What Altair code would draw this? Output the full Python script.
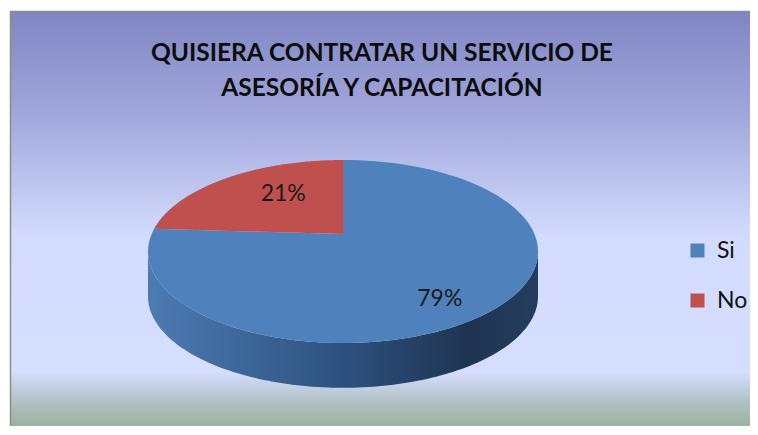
import altair as alt
import pandas as pd
import numpy as np

# ---- data ----
categories = ["Si", "No"]
values = [79, 21]
colors = ["#4F81BD", "#C0504D"]
title_lines = ["QUISIERA CONTRATAR UN SERVICIO DE", "ASESORÍA Y CAPACITACIÓN"]

# ---- layout / style constants ----
W, H = 740, 415
N = 120                 # arc resolution
VY = 0.19               # vertex offset (perspective)
DEPTH = 0.49            # pie thickness in y units
label_radius = {"Si": 0.81, "No": 0.5}
FONT = "Lato"

total = float(sum(values))
ends = np.cumsum(values) / total
starts = ends - np.array(values) / total

rows = []
for c, v, s, e in zip(categories, values, starts, ends):
    for k in range(-1, N + 1):
        rows.append({"cat": c, "value": v, "start": s, "end": e, "step": k})
pie_df = pd.DataFrame(rows)
lab_df = pd.DataFrame({"cat": categories, "value": values, "start": starts, "end": ends})

xs = alt.Scale(domain=[-1, 1], range=[138, 528], nice=False, zero=False)
ys = alt.Scale(domain=[-1, 1], range=[332, 149], nice=False, zero=False)

one = pd.DataFrame({"k": [0]})

bg_grad = alt.Gradient(
    gradient="linear", x1=0, x2=0, y1=0, y2=1,
    stops=[
        alt.GradientStop(offset=0.0, color="#7F85C3"),
        alt.GradientStop(offset=0.26, color="#A3A9DC"),
        alt.GradientStop(offset=0.45, color="#C3CBF3"),
        alt.GradientStop(offset=0.545, color="#D3DCFE"),
        alt.GradientStop(offset=0.87, color="#D5DEFF"),
        alt.GradientStop(offset=0.90, color="#C6D1E8"),
        alt.GradientStop(offset=0.94, color="#B2C2C4"),
        alt.GradientStop(offset=1.0, color="#9CB19E"),
    ],
)
bg = alt.Chart(one).mark_rect(color=bg_grad).encode(
    x=alt.value(0), x2=alt.value(W), y=alt.value(0), y2=alt.value(H)
)
border_top = alt.Chart(one).mark_rule(color="#8C8C8C", strokeWidth=1.5).encode(
    x=alt.value(0), x2=alt.value(W), y=alt.value(0.5)
)
border_left = alt.Chart(one).mark_rule(color="#8C8C8C", strokeWidth=1.5).encode(
    x=alt.value(0.5), y=alt.value(0), y2=alt.value(H)
)

side_grad = alt.Gradient(
    gradient="linear", x1=0, x2=1, y1=0, y2=0,
    stops=[
        alt.GradientStop(offset=0.0, color="#4C7BB3"),
        alt.GradientStop(offset=0.5, color="#2D517E"),
        alt.GradientStop(offset=0.82, color="#1F3452"),
        alt.GradientStop(offset=1.0, color="#243D5E"),
    ],
)
side = alt.Chart(alt.sequence(0, N + 1, as_="i")).transform_calculate(
    t=f"PI + PI * datum.i / {N}",
    x="cos(datum.t)",
    y="sin(datum.t)",
    y2=f"sin(datum.t) - {DEPTH}",
).mark_area(color=side_grad).encode(
    x=alt.X("x:Q", scale=xs, axis=None),
    y=alt.Y("y:Q", scale=ys, axis=None),
    y2="y2:Q",
)

pie = alt.Chart(pie_df).transform_calculate(
    t=f"PI / 2 - 2 * PI * (datum.start + (datum.end - datum.start) * max(datum.step, 0) / {N})",
    x="datum.step < 0 ? 0 : cos(datum.t)",
    y=f"datum.step < 0 ? {VY} : sin(datum.t)",
).mark_line(filled=True).encode(
    x=alt.X("x:Q", scale=xs, axis=None),
    y=alt.Y("y:Q", scale=ys, axis=None),
    order=alt.Order("step:Q"),
    color=alt.Color(
        "cat:N",
        scale=alt.Scale(domain=categories, range=colors),
        legend=alt.Legend(
            title=None, orient="none", legendX=676, legendY=228,
            symbolType="square", symbolSize=196, symbolStrokeWidth=0,
            labelFontSize=23, labelFont=FONT, labelColor="#111111",
            rowPadding=26, labelOffset=8, padding=0, direction="vertical",
        ),
    ),
)

r_expr = " : ".join([f"datum.cat == '{c}' ? {r}" for c, r in label_radius.items()]) + " : 0.6"
labels = alt.Chart(lab_df).transform_calculate(
    m="PI / 2 - PI * (datum.start + datum.end)",
    r=r_expr,
    x="cos(datum.m) * datum.r",
    y=f"{VY} + sin(datum.m) * datum.r * 1.1",
    txt="datum.value + '%'",
).mark_text(font=FONT, fontSize=23, color="#1A1A1A").encode(
    x=alt.X("x:Q", scale=xs, axis=None),
    y=alt.Y("y:Q", scale=ys, axis=None),
    text="txt:N",
)

title = alt.Chart(one).mark_text(
    text=title_lines, font=FONT, fontSize=24.5, fontWeight="bold", lineHeight=35,
    color="#0D0D0D", align="center", baseline="middle",
).encode(x=alt.value(372), y=alt.value(43))

chart = alt.layer(bg, border_top, border_left, side, pie, labels, title).properties(
    width=W, height=H,
    padding={"left": 2, "top": 3, "right": 0, "bottom": 0},
    autosize=alt.AutoSizeParams(type="none"),
).configure_view(stroke=None)

chart.save("out.html", embed_options={"renderer": "svg", "actions": False})
